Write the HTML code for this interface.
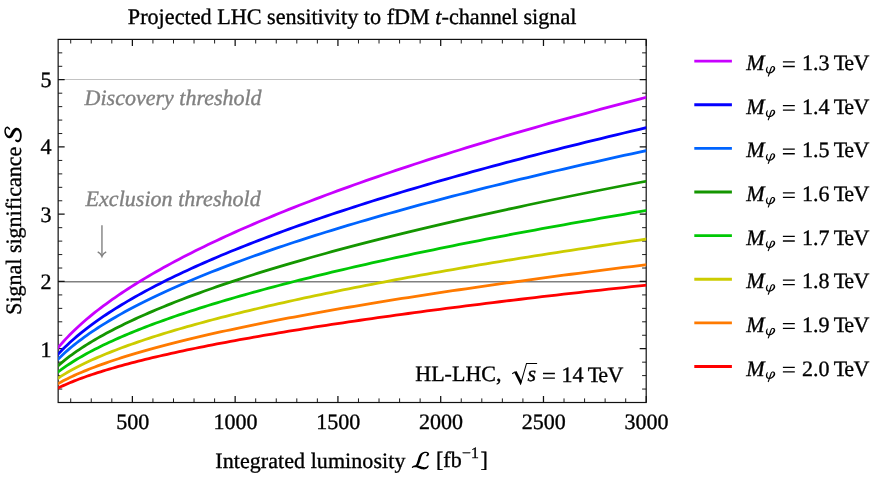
<!DOCTYPE html>
<html lang="en"><head><meta charset="utf-8"><title>Projected LHC sensitivity</title>
<style>
html,body{margin:0;padding:0;background:#fff;}
svg{display:block;will-change:transform}
text{font-family:"Liberation Serif",serif;font-size:22px;fill:#000;stroke:#000;stroke-width:0.35px;white-space:pre;text-rendering:geometricPrecision}
.i{font-style:italic}
.g{fill:#808080;stroke:#808080;font-style:italic}
</style></head><body>
<svg width="884" height="479" viewBox="0 0 884 479">
<rect width="884" height="479" fill="#fff"/>
<defs><clipPath id="c"><rect x="58.15" y="39.4" width="588.0500000000001" height="363.1"/></clipPath></defs>
<line x1="58.15" x2="646.2" y1="79.50" y2="79.50" stroke="#b4b4b4" stroke-width="0.8"/>
<line x1="58.15" x2="646.2" y1="281.65" y2="281.65" stroke="#808080" stroke-width="1.5"/>
<path d="M70.71 402.5v-4.1M70.71 39.4v4.1M91.26 402.5v-4.1M91.26 39.4v4.1M111.82 402.5v-4.1M111.82 39.4v4.1M152.93 402.5v-4.1M152.93 39.4v4.1M173.49 402.5v-4.1M173.49 39.4v4.1M194.04 402.5v-4.1M194.04 39.4v4.1M214.60 402.5v-4.1M214.60 39.4v4.1M255.70 402.5v-4.1M255.70 39.4v4.1M276.26 402.5v-4.1M276.26 39.4v4.1M296.81 402.5v-4.1M296.81 39.4v4.1M317.37 402.5v-4.1M317.37 39.4v4.1M358.48 402.5v-4.1M358.48 39.4v4.1M379.03 402.5v-4.1M379.03 39.4v4.1M399.59 402.5v-4.1M399.59 39.4v4.1M420.14 402.5v-4.1M420.14 39.4v4.1M461.25 402.5v-4.1M461.25 39.4v4.1M481.81 402.5v-4.1M481.81 39.4v4.1M502.37 402.5v-4.1M502.37 39.4v4.1M522.92 402.5v-4.1M522.92 39.4v4.1M564.03 402.5v-4.1M564.03 39.4v4.1M584.59 402.5v-4.1M584.59 39.4v4.1M605.14 402.5v-4.1M605.14 39.4v4.1M625.70 402.5v-4.1M625.70 39.4v4.1M58.15 389.05h4.1M646.2 389.05h-4.1M58.15 375.60h4.1M646.2 375.60h-4.1M58.15 362.16h4.1M646.2 362.16h-4.1M58.15 335.26h4.1M646.2 335.26h-4.1M58.15 321.81h4.1M646.2 321.81h-4.1M58.15 308.36h4.1M646.2 308.36h-4.1M58.15 294.91h4.1M646.2 294.91h-4.1M58.15 268.02h4.1M646.2 268.02h-4.1M58.15 254.57h4.1M646.2 254.57h-4.1M58.15 241.12h4.1M646.2 241.12h-4.1M58.15 227.67h4.1M646.2 227.67h-4.1M58.15 200.78h4.1M646.2 200.78h-4.1M58.15 187.33h4.1M646.2 187.33h-4.1M58.15 173.88h4.1M646.2 173.88h-4.1M58.15 160.43h4.1M646.2 160.43h-4.1M58.15 133.54h4.1M646.2 133.54h-4.1M58.15 120.09h4.1M646.2 120.09h-4.1M58.15 106.64h4.1M646.2 106.64h-4.1M58.15 93.19h4.1M646.2 93.19h-4.1M58.15 66.30h4.1M646.2 66.30h-4.1M58.15 52.85h4.1M646.2 52.85h-4.1" stroke="#111" stroke-width="0.95" fill="none"/>
<path d="M132.38 402.5v-6.5M132.38 39.4v6.5M235.15 402.5v-6.5M235.15 39.4v6.5M337.93 402.5v-6.5M337.93 39.4v6.5M440.70 402.5v-6.5M440.70 39.4v6.5M543.48 402.5v-6.5M543.48 39.4v6.5M646.25 402.5v-6.5M646.25 39.4v6.5M58.15 348.71h6.5M646.2 348.71h-6.5M58.15 281.47h6.5M646.2 281.47h-6.5M58.15 214.23h6.5M646.2 214.23h-6.5M58.15 146.98h6.5M646.2 146.98h-6.5M58.15 79.74h6.5M646.2 79.74h-6.5" stroke="#111" stroke-width="1.25" fill="none"/>
<rect x="58.15" y="39.4" width="588.0500000000001" height="363.1" fill="none" stroke="#111" stroke-width="1.2"/>
<g clip-path="url(#c)" fill="none" stroke-width="2.8" stroke-linejoin="round">
<polyline stroke="#c800ff" points="57.12,348.86 59.11,346.47 61.15,344.10 63.25,341.74 65.38,339.41 67.57,337.10 69.81,334.80 72.10,332.51 74.43,330.24 76.82,327.99 79.25,325.74 81.74,323.50 84.27,321.28 86.85,319.06 89.48,316.85 92.16,314.65 94.89,312.46 97.67,310.27 100.50,308.09 103.38,305.92 106.30,303.76 109.28,301.59 112.30,299.44 115.38,297.29 118.50,295.14 121.67,293.00 124.89,290.86 128.16,288.73 131.48,286.60 134.85,284.47 138.27,282.35 141.74,280.23 145.25,278.11 148.82,276.00 152.43,273.89 156.10,271.78 159.81,269.68 163.57,267.58 167.38,265.48 171.24,263.38 175.15,261.28 179.11,259.19 183.12,257.10 187.18,255.01 191.28,252.92 195.44,250.84 199.64,248.75 203.90,246.67 208.20,244.59 212.55,242.51 216.96,240.43 221.41,238.36 225.91,236.28 230.46,234.21 235.05,232.14 239.70,230.07 244.40,228.00 249.14,225.93 253.94,223.86 258.78,221.79 263.68,219.73 268.62,217.67 273.61,215.60 278.65,213.54 283.74,211.48 288.88,209.42 294.07,207.36 299.31,205.30 304.59,203.24 309.93,201.19 315.32,199.13 320.75,197.08 326.23,195.02 331.77,192.97 337.35,190.92 342.98,188.86 348.66,186.81 354.39,184.76 360.17,182.71 365.99,180.66 371.87,178.61 377.80,176.56 383.77,174.52 389.80,172.47 395.87,170.42 401.99,168.38 408.17,166.33 414.39,164.28 420.66,162.24 426.98,160.20 433.35,158.15 439.76,156.11 446.23,154.07 452.75,152.02 459.31,149.98 465.93,147.94 472.59,145.90 479.30,143.86 486.07,141.82 492.88,139.78 499.74,137.74 506.65,135.70 513.61,133.66 520.62,131.62 527.67,129.58 534.78,127.55 541.93,125.51 549.14,123.47 556.39,121.43 563.70,119.40 571.05,117.36 578.45,115.33 585.90,113.29 593.40,111.25 600.95,109.22 608.55,107.18 616.20,105.15 623.89,103.12 631.64,101.08 639.43,99.05 647.28,97.01"/>
<polyline stroke="#0400ff" points="57.12,355.29 59.11,353.13 61.15,350.98 63.25,348.85 65.38,346.75 67.57,344.65 69.81,342.57 72.10,340.51 74.43,338.45 76.82,336.41 79.25,334.38 81.74,332.35 84.27,330.34 86.85,328.34 89.48,326.34 92.16,324.35 94.89,322.36 97.67,320.39 100.50,318.42 103.38,316.45 106.30,314.49 109.28,312.54 112.30,310.59 115.38,308.64 118.50,306.70 121.67,304.76 124.89,302.83 128.16,300.90 131.48,298.97 134.85,297.05 138.27,295.13 141.74,293.21 145.25,291.30 148.82,289.39 152.43,287.48 156.10,285.57 159.81,283.67 163.57,281.76 167.38,279.87 171.24,277.97 175.15,276.07 179.11,274.18 183.12,272.29 187.18,270.40 191.28,268.51 195.44,266.62 199.64,264.74 203.90,262.85 208.20,260.97 212.55,259.09 216.96,257.21 221.41,255.33 225.91,253.46 230.46,251.58 235.05,249.71 239.70,247.83 244.40,245.96 249.14,244.09 253.94,242.22 258.78,240.35 263.68,238.48 268.62,236.62 273.61,234.75 278.65,232.89 283.74,231.02 288.88,229.16 294.07,227.30 299.31,225.43 304.59,223.57 309.93,221.71 315.32,219.85 320.75,217.99 326.23,216.14 331.77,214.28 337.35,212.42 342.98,210.57 348.66,208.71 354.39,206.85 360.17,205.00 365.99,203.15 371.87,201.29 377.80,199.44 383.77,197.59 389.80,195.73 395.87,193.88 401.99,192.03 408.17,190.18 414.39,188.33 420.66,186.48 426.98,184.63 433.35,182.78 439.76,180.94 446.23,179.09 452.75,177.24 459.31,175.39 465.93,173.55 472.59,171.70 479.30,169.86 486.07,168.01 492.88,166.16 499.74,164.32 506.65,162.47 513.61,160.63 520.62,158.79 527.67,156.94 534.78,155.10 541.93,153.26 549.14,151.41 556.39,149.57 563.70,147.73 571.05,145.89 578.45,144.05 585.90,142.20 593.40,140.36 600.95,138.52 608.55,136.68 616.20,134.84 623.89,133.00 631.64,131.16 639.43,129.32 647.28,127.48"/>
<polyline stroke="#0064ff" points="57.12,360.13 59.11,358.14 61.15,356.16 63.25,354.20 65.38,352.26 67.57,350.33 69.81,348.42 72.10,346.52 74.43,344.63 76.82,342.75 79.25,340.87 81.74,339.01 84.27,337.16 86.85,335.31 89.48,333.47 92.16,331.64 94.89,329.82 97.67,328.00 100.50,326.18 103.38,324.37 106.30,322.57 109.28,320.77 112.30,318.97 115.38,317.18 118.50,315.39 121.67,313.61 124.89,311.83 128.16,310.05 131.48,308.28 134.85,306.51 138.27,304.74 141.74,302.98 145.25,301.21 148.82,299.45 152.43,297.70 156.10,295.94 159.81,294.19 163.57,292.44 167.38,290.69 171.24,288.94 175.15,287.20 179.11,285.45 183.12,283.71 187.18,281.97 191.28,280.23 195.44,278.50 199.64,276.76 203.90,275.03 208.20,273.30 212.55,271.56 216.96,269.83 221.41,268.10 225.91,266.38 230.46,264.65 235.05,262.93 239.70,261.20 244.40,259.48 249.14,257.75 253.94,256.03 258.78,254.31 263.68,252.59 268.62,250.87 273.61,249.16 278.65,247.44 283.74,245.72 288.88,244.01 294.07,242.29 299.31,240.58 304.59,238.87 309.93,237.15 315.32,235.44 320.75,233.73 326.23,232.02 331.77,230.31 337.35,228.60 342.98,226.89 348.66,225.18 354.39,223.47 360.17,221.77 365.99,220.06 371.87,218.35 377.80,216.65 383.77,214.94 389.80,213.24 395.87,211.53 401.99,209.83 408.17,208.12 414.39,206.42 420.66,204.72 426.98,203.02 433.35,201.31 439.76,199.61 446.23,197.91 452.75,196.21 459.31,194.51 465.93,192.81 472.59,191.11 479.30,189.41 486.07,187.71 492.88,186.01 499.74,184.31 506.65,182.62 513.61,180.92 520.62,179.22 527.67,177.52 534.78,175.83 541.93,174.13 549.14,172.43 556.39,170.74 563.70,169.04 571.05,167.34 578.45,165.65 585.90,163.95 593.40,162.26 600.95,160.56 608.55,158.87 616.20,157.18 623.89,155.48 631.64,153.79 639.43,152.09 647.28,150.40"/>
<polyline stroke="#149600" points="57.12,366.59 59.11,364.83 61.15,363.08 63.25,361.35 65.38,359.63 67.57,357.92 69.81,356.23 72.10,354.54 74.43,352.87 76.82,351.21 79.25,349.55 81.74,347.90 84.27,346.26 86.85,344.63 89.48,343.00 92.16,341.38 94.89,339.77 97.67,338.15 100.50,336.55 103.38,334.95 106.30,333.35 109.28,331.76 112.30,330.17 115.38,328.59 118.50,327.00 121.67,325.43 124.89,323.85 128.16,322.28 131.48,320.71 134.85,319.14 138.27,317.58 141.74,316.02 145.25,314.46 148.82,312.90 152.43,311.34 156.10,309.79 159.81,308.24 163.57,306.69 167.38,305.14 171.24,303.60 175.15,302.05 179.11,300.51 183.12,298.97 187.18,297.43 191.28,295.89 195.44,294.35 199.64,292.82 203.90,291.28 208.20,289.75 212.55,288.22 216.96,286.69 221.41,285.16 225.91,283.63 230.46,282.10 235.05,280.57 239.70,279.05 244.40,277.52 249.14,276.00 253.94,274.48 258.78,272.95 263.68,271.43 268.62,269.91 273.61,268.39 278.65,266.87 283.74,265.35 288.88,263.83 294.07,262.32 299.31,260.80 304.59,259.28 309.93,257.77 315.32,256.25 320.75,254.74 326.23,253.23 331.77,251.71 337.35,250.20 342.98,248.69 348.66,247.18 354.39,245.66 360.17,244.15 365.99,242.64 371.87,241.13 377.80,239.62 383.77,238.11 389.80,236.61 395.87,235.10 401.99,233.59 408.17,232.08 414.39,230.57 420.66,229.07 426.98,227.56 433.35,226.06 439.76,224.55 446.23,223.04 452.75,221.54 459.31,220.03 465.93,218.53 472.59,217.03 479.30,215.52 486.07,214.02 492.88,212.52 499.74,211.01 506.65,209.51 513.61,208.01 520.62,206.51 527.67,205.00 534.78,203.50 541.93,202.00 549.14,200.50 556.39,199.00 563.70,197.50 571.05,196.00 578.45,194.50 585.90,193.00 593.40,191.50 600.95,190.00 608.55,188.50 616.20,187.00 623.89,185.50 631.64,184.00 639.43,182.50 647.28,181.00"/>
<polyline stroke="#00c805" points="57.12,372.78 59.11,371.24 61.15,369.71 63.25,368.19 65.38,366.68 67.57,365.19 69.81,363.71 72.10,362.24 74.43,360.77 76.82,359.31 79.25,357.86 81.74,356.42 84.27,354.99 86.85,353.56 89.48,352.13 92.16,350.71 94.89,349.30 97.67,347.89 100.50,346.48 103.38,345.08 106.30,343.68 109.28,342.29 112.30,340.90 115.38,339.51 118.50,338.13 121.67,336.75 124.89,335.37 128.16,333.99 131.48,332.62 134.85,331.25 138.27,329.88 141.74,328.51 145.25,327.14 148.82,325.78 152.43,324.42 156.10,323.06 159.81,321.70 163.57,320.35 167.38,318.99 171.24,317.64 175.15,316.29 179.11,314.94 183.12,313.59 187.18,312.24 191.28,310.89 195.44,309.55 199.64,308.20 203.90,306.86 208.20,305.52 212.55,304.18 216.96,302.84 221.41,301.50 225.91,300.16 230.46,298.82 235.05,297.49 239.70,296.15 244.40,294.81 249.14,293.48 253.94,292.15 258.78,290.81 263.68,289.48 268.62,288.15 273.61,286.82 278.65,285.49 283.74,284.16 288.88,282.83 294.07,281.50 299.31,280.18 304.59,278.85 309.93,277.52 315.32,276.20 320.75,274.87 326.23,273.54 331.77,272.22 337.35,270.90 342.98,269.57 348.66,268.25 354.39,266.93 360.17,265.60 365.99,264.28 371.87,262.96 377.80,261.64 383.77,260.32 389.80,259.00 395.87,257.68 401.99,256.36 408.17,255.04 414.39,253.72 420.66,252.40 426.98,251.08 433.35,249.76 439.76,248.44 446.23,247.13 452.75,245.81 459.31,244.49 465.93,243.17 472.59,241.86 479.30,240.54 486.07,239.23 492.88,237.91 499.74,236.59 506.65,235.28 513.61,233.96 520.62,232.65 527.67,231.33 534.78,230.02 541.93,228.70 549.14,227.39 556.39,226.08 563.70,224.76 571.05,223.45 578.45,222.14 585.90,220.82 593.40,219.51 600.95,218.20 608.55,216.88 616.20,215.57 623.89,214.26 631.64,212.95 639.43,211.64 647.28,210.32"/>
<polyline stroke="#cccc00" points="57.12,378.83 59.11,377.50 61.15,376.18 63.25,374.88 65.38,373.58 67.57,372.29 69.81,371.02 72.10,369.75 74.43,368.49 76.82,367.23 79.25,365.99 81.74,364.75 84.27,363.51 86.85,362.28 89.48,361.05 92.16,359.83 94.89,358.61 97.67,357.40 100.50,356.19 103.38,354.98 106.30,353.78 109.28,352.58 112.30,351.38 115.38,350.19 118.50,349.00 121.67,347.81 124.89,346.62 128.16,345.43 131.48,344.25 134.85,343.07 138.27,341.89 141.74,340.72 145.25,339.54 148.82,338.37 152.43,337.19 156.10,336.02 159.81,334.86 163.57,333.69 167.38,332.52 171.24,331.36 175.15,330.19 179.11,329.03 183.12,327.87 187.18,326.71 191.28,325.55 195.44,324.39 199.64,323.23 203.90,322.08 208.20,320.92 212.55,319.77 216.96,318.61 221.41,317.46 225.91,316.31 230.46,315.16 235.05,314.01 239.70,312.86 244.40,311.71 249.14,310.56 253.94,309.41 258.78,308.26 263.68,307.12 268.62,305.97 273.61,304.83 278.65,303.68 283.74,302.54 288.88,301.39 294.07,300.25 299.31,299.11 304.59,297.96 309.93,296.82 315.32,295.68 320.75,294.54 326.23,293.40 331.77,292.26 337.35,291.12 342.98,289.98 348.66,288.84 354.39,287.70 360.17,286.56 365.99,285.42 371.87,284.28 377.80,283.15 383.77,282.01 389.80,280.87 395.87,279.74 401.99,278.60 408.17,277.46 414.39,276.33 420.66,275.19 426.98,274.06 433.35,272.92 439.76,271.79 446.23,270.65 452.75,269.52 459.31,268.39 465.93,267.25 472.59,266.12 479.30,264.99 486.07,263.85 492.88,262.72 499.74,261.59 506.65,260.45 513.61,259.32 520.62,258.19 527.67,257.06 534.78,255.93 541.93,254.80 549.14,253.66 556.39,252.53 563.70,251.40 571.05,250.27 578.45,249.14 585.90,248.01 593.40,246.88 600.95,245.75 608.55,244.62 616.20,243.49 623.89,242.36 631.64,241.23 639.43,240.10 647.28,238.97"/>
<polyline stroke="#ff7a00" points="57.12,384.24 59.11,383.10 61.15,381.97 63.25,380.85 65.38,379.75 67.57,378.65 69.81,377.55 72.10,376.47 74.43,375.39 76.82,374.32 79.25,373.25 81.74,372.19 84.27,371.13 86.85,370.08 89.48,369.03 92.16,367.98 94.89,366.94 97.67,365.90 100.50,364.87 103.38,363.83 106.30,362.81 109.28,361.78 112.30,360.75 115.38,359.73 118.50,358.71 121.67,357.70 124.89,356.68 128.16,355.67 131.48,354.65 134.85,353.64 138.27,352.64 141.74,351.63 145.25,350.62 148.82,349.62 152.43,348.62 156.10,347.62 159.81,346.62 163.57,345.62 167.38,344.62 171.24,343.62 175.15,342.63 179.11,341.63 183.12,340.64 187.18,339.65 191.28,338.65 195.44,337.66 199.64,336.67 203.90,335.68 208.20,334.70 212.55,333.71 216.96,332.72 221.41,331.74 225.91,330.75 230.46,329.76 235.05,328.78 239.70,327.80 244.40,326.81 249.14,325.83 253.94,324.85 258.78,323.87 263.68,322.89 268.62,321.91 273.61,320.93 278.65,319.95 283.74,318.97 288.88,317.99 294.07,317.01 299.31,316.03 304.59,315.05 309.93,314.08 315.32,313.10 320.75,312.12 326.23,311.15 331.77,310.17 337.35,309.20 342.98,308.22 348.66,307.25 354.39,306.27 360.17,305.30 365.99,304.33 371.87,303.35 377.80,302.38 383.77,301.41 389.80,300.43 395.87,299.46 401.99,298.49 408.17,297.52 414.39,296.55 420.66,295.57 426.98,294.60 433.35,293.63 439.76,292.66 446.23,291.69 452.75,290.72 459.31,289.75 465.93,288.78 472.59,287.81 479.30,286.84 486.07,285.87 492.88,284.90 499.74,283.93 506.65,282.96 513.61,282.00 520.62,281.03 527.67,280.06 534.78,279.09 541.93,278.12 549.14,277.16 556.39,276.19 563.70,275.22 571.05,274.25 578.45,273.29 585.90,272.32 593.40,271.35 600.95,270.38 608.55,269.42 616.20,268.45 623.89,267.48 631.64,266.52 639.43,265.55 647.28,264.59"/>
<polyline stroke="#ff0000" points="57.12,388.55 59.11,387.56 61.15,386.59 63.25,385.62 65.38,384.66 67.57,383.71 69.81,382.76 72.10,381.83 74.43,380.89 76.82,379.96 79.25,379.04 81.74,378.12 84.27,377.21 86.85,376.29 89.48,375.39 92.16,374.48 94.89,373.58 97.67,372.68 100.50,371.79 103.38,370.89 106.30,370.00 109.28,369.11 112.30,368.23 115.38,367.34 118.50,366.46 121.67,365.58 124.89,364.70 128.16,363.82 131.48,362.95 134.85,362.08 138.27,361.20 141.74,360.33 145.25,359.46 148.82,358.59 152.43,357.73 156.10,356.86 159.81,355.99 163.57,355.13 167.38,354.27 171.24,353.40 175.15,352.54 179.11,351.68 183.12,350.82 187.18,349.96 191.28,349.10 195.44,348.25 199.64,347.39 203.90,346.53 208.20,345.68 212.55,344.82 216.96,343.97 221.41,343.12 225.91,342.26 230.46,341.41 235.05,340.56 239.70,339.71 244.40,338.86 249.14,338.01 253.94,337.16 258.78,336.31 263.68,335.46 268.62,334.61 273.61,333.76 278.65,332.91 283.74,332.07 288.88,331.22 294.07,330.37 299.31,329.53 304.59,328.68 309.93,327.84 315.32,326.99 320.75,326.15 326.23,325.30 331.77,324.46 337.35,323.61 342.98,322.77 348.66,321.93 354.39,321.08 360.17,320.24 365.99,319.40 371.87,318.56 377.80,317.71 383.77,316.87 389.80,316.03 395.87,315.19 401.99,314.35 408.17,313.51 414.39,312.67 420.66,311.82 426.98,310.98 433.35,310.14 439.76,309.30 446.23,308.46 452.75,307.62 459.31,306.79 465.93,305.95 472.59,305.11 479.30,304.27 486.07,303.43 492.88,302.59 499.74,301.75 506.65,300.91 513.61,300.08 520.62,299.24 527.67,298.40 534.78,297.56 541.93,296.72 549.14,295.89 556.39,295.05 563.70,294.21 571.05,293.38 578.45,292.54 585.90,291.70 593.40,290.86 600.95,290.03 608.55,289.19 616.20,288.35 623.89,287.52 631.64,286.68 639.43,285.85 647.28,285.01"/>
</g>
<text x="132.68" y="428.6" text-anchor="middle">500</text>
<text x="235.45" y="428.6" text-anchor="middle">1000</text>
<text x="338.23" y="428.6" text-anchor="middle">1500</text>
<text x="441.00" y="428.6" text-anchor="middle">2000</text>
<text x="543.77" y="428.6" text-anchor="middle">2500</text>
<text x="646.55" y="428.6" text-anchor="middle">3000</text>
<text x="51.6" y="356.50" text-anchor="end">1</text>
<text x="51.6" y="289.15" text-anchor="end">2</text>
<text x="51.6" y="221.80" text-anchor="end">3</text>
<text x="51.6" y="154.45" text-anchor="end">4</text>
<text x="51.6" y="87.10" text-anchor="end">5</text>
<text x="127.8" y="24.2" style="font-size:22.19px">Projected LHC sensitivity to fDM <tspan class="i">t</tspan>-channel signal</text>
<text class="g" x="84.6" y="105.3">Discovery threshold</text>
<text class="g" x="85.6" y="206" style="letter-spacing:0.03px">Exclusion threshold</text>
<path d="M101.95 225.3V255.6" stroke="#808080" stroke-width="1.4" fill="none"/><path d="M97.7 251.9Q100.9 253.4 101.95 256.2Q103.0 253.4 106.2 251.9" stroke="#808080" stroke-width="1.6" fill="none" stroke-linejoin="miter"/>
<text x="415.3" y="381.4">HL-LHC,</text>
<path d="M512.2 373.7L515.4 371.6M520.5 384.4L526.5 363.4H537.1" stroke="#000" stroke-width="1.05" fill="none"/><path d="M514.2 372.4L516.5 370.9L521.7 381.3L520.6 385.2Z" fill="#000"/>
<text class="i" x="527.6" y="381.4">s</text>
<path d="M543 373.5H554.9M543 378.05H554.9" stroke="#000" stroke-width="1.3" fill="none"/>
<text x="561.6" y="381.6">14</text>
<text x="587.7" y="381.6" dx="0 -1.3 -0.5">TeV</text>
<text x="215.3" y="467.6" style="letter-spacing:0.065px">Integrated luminosity </text>
<text x="436" y="467.4">[fb</text>
<text x="462" y="458.4" style="font-size:15.8px">−1</text>
<text x="480.6" y="467.4">]</text>
<path transform="translate(405 444)" d="M21.74 12.43L21.84 12.39L21.95 12.36L22.06 12.33L22.18 12.30L22.31 12.27L22.44 12.23L22.58 12.18L22.73 12.12L22.88 12.04L23.03 11.95L23.18 11.83L23.32 11.70L23.43 11.58L23.53 11.46L23.63 11.33L23.72 11.19L23.81 11.04L23.89 10.87L23.96 10.69L24.02 10.50L24.06 10.30L24.08 10.07L24.06 9.83L24.01 9.59L23.94 9.39L23.84 9.21L23.73 9.04L23.60 8.89L23.46 8.75L23.31 8.62L23.15 8.49L22.98 8.38L22.81 8.28L22.62 8.18L22.43 8.10L22.24 8.02L22.06 7.97L21.87 7.91L21.67 7.86L21.47 7.82L21.25 7.78L21.03 7.75L20.79 7.73L20.56 7.71L20.31 7.71L20.06 7.72L19.80 7.75L19.55 7.79L19.29 7.85L19.03 7.92L18.76 7.99L18.48 8.08L18.20 8.18L17.91 8.29L17.62 8.42L17.34 8.55L17.06 8.70L16.78 8.85L16.52 9.03L16.26 9.21L16.02 9.41L15.80 9.62L15.58 9.84L15.38 10.06L15.18 10.30L15.00 10.54L14.82 10.78L14.66 11.03L14.50 11.29L14.35 11.55L14.20 11.82L14.05 12.10L13.91 12.41L13.77 12.74L13.65 13.07L13.53 13.40L13.42 13.74L13.32 14.07L13.22 14.41L13.13 14.74L13.04 15.06L12.95 15.38L12.85 15.68L12.75 15.99L12.65 16.31L12.54 16.65L12.44 16.99L12.33 17.33L12.23 17.67L12.13 18.00L12.03 18.32L11.93 18.62L11.84 18.91L11.74 19.18L11.65 19.42L11.56 19.63L11.46 19.84L11.37 20.03L11.27 20.22L11.18 20.40L11.08 20.56L10.98 20.72L10.89 20.86L10.79 21.00L10.68 21.12L10.58 21.24L10.47 21.35L10.37 21.44L10.29 21.50L10.21 21.55L10.10 21.60L9.96 21.64L9.81 21.67L9.63 21.69L9.44 21.72L9.24 21.74L9.03 21.77L8.81 21.81L8.58 21.87L8.36 21.96L8.17 22.05L8.00 22.15L7.84 22.26L7.70 22.37L7.57 22.48L7.46 22.58L7.35 22.69L7.24 22.79L7.15 22.89L7.05 22.98L6.96 23.06L6.86 23.15L7.54 24.05L7.66 23.97L7.79 23.88L7.92 23.79L8.03 23.70L8.14 23.62L8.24 23.54L8.35 23.47L8.45 23.41L8.54 23.36L8.64 23.31L8.74 23.27L8.84 23.24L8.93 23.23L9.04 23.22L9.17 23.22L9.33 23.22L9.52 23.23L9.72 23.23L9.94 23.23L10.17 23.22L10.42 23.20L10.69 23.15L10.97 23.07L11.23 22.96L11.47 22.84L11.68 22.72L11.89 22.59L12.10 22.44L12.31 22.28L12.52 22.11L12.72 21.92L12.91 21.72L13.10 21.51L13.29 21.28L13.47 21.03L13.64 20.77L13.81 20.48L13.98 20.16L14.13 19.84L14.27 19.51L14.41 19.17L14.54 18.82L14.67 18.48L14.79 18.13L14.91 17.79L15.02 17.46L15.13 17.13L15.25 16.81L15.36 16.48L15.47 16.13L15.57 15.79L15.66 15.45L15.75 15.11L15.84 14.79L15.93 14.47L16.01 14.17L16.09 13.88L16.18 13.60L16.26 13.35L16.35 13.10L16.44 12.85L16.54 12.59L16.63 12.35L16.72 12.11L16.81 11.89L16.90 11.68L16.99 11.47L17.09 11.28L17.19 11.09L17.30 10.92L17.41 10.75L17.54 10.59L17.68 10.43L17.84 10.27L18.01 10.11L18.20 9.95L18.40 9.79L18.61 9.64L18.83 9.51L19.05 9.38L19.26 9.26L19.47 9.16L19.67 9.07L19.85 9.01L20.02 8.96L20.19 8.92L20.37 8.90L20.54 8.89L20.72 8.90L20.89 8.91L21.05 8.94L21.22 8.97L21.37 9.02L21.51 9.07L21.64 9.12L21.76 9.18L21.84 9.23L21.92 9.30L21.99 9.38L22.05 9.47L22.10 9.56L22.14 9.65L22.17 9.74L22.19 9.82L22.20 9.90L22.21 9.96L22.20 10.00L22.19 10.01L22.17 9.98L22.16 9.96L22.15 9.96L22.14 9.99L22.12 10.03L22.10 10.08L22.07 10.14L22.04 10.21L22.00 10.29L21.96 10.36L21.91 10.44L21.88 10.50L21.87 10.54L21.85 10.58L21.82 10.63L21.78 10.69L21.72 10.76L21.64 10.84L21.56 10.92L21.47 11.00L21.37 11.09L21.27 11.18L21.16 11.28L21.06 11.37ZM7.32 24.08L7.46 24.00L7.59 23.90L7.72 23.81L7.84 23.72L7.95 23.64L8.06 23.56L8.16 23.50L8.26 23.44L8.35 23.40L8.45 23.36L8.55 23.33L8.67 23.30L8.82 23.27L8.99 23.23L9.16 23.20L9.35 23.16L9.54 23.14L9.74 23.11L9.94 23.10L10.15 23.09L10.35 23.09L10.55 23.09L10.74 23.11L10.93 23.13L11.11 23.17L11.30 23.22L11.51 23.29L11.72 23.36L11.94 23.45L12.17 23.54L12.40 23.63L12.64 23.74L12.89 23.84L13.14 23.94L13.40 24.04L13.65 24.13L13.88 24.22L14.10 24.31L14.33 24.40L14.57 24.50L14.81 24.60L15.06 24.70L15.32 24.81L15.59 24.91L15.87 25.00L16.16 25.09L16.45 25.16L16.75 25.22L17.03 25.27L17.31 25.31L17.59 25.34L17.88 25.37L18.17 25.39L18.46 25.40L18.75 25.40L19.03 25.40L19.32 25.38L19.61 25.35L19.89 25.31L20.16 25.25L20.43 25.18L20.69 25.09L20.94 24.99L21.17 24.88L21.40 24.76L21.61 24.63L21.81 24.50L22.00 24.36L22.18 24.22L22.35 24.08L22.51 23.94L22.66 23.79L22.82 23.63L22.97 23.46L23.09 23.28L23.20 23.11L23.30 22.94L23.38 22.77L23.46 22.61L23.53 22.46L23.60 22.31L23.67 22.17L23.73 22.03L23.81 21.89L22.99 21.31L22.87 21.44L22.76 21.58L22.65 21.72L22.54 21.85L22.44 21.98L22.34 22.10L22.24 22.21L22.15 22.31L22.05 22.40L21.95 22.48L21.85 22.55L21.74 22.61L21.60 22.68L21.45 22.75L21.30 22.82L21.14 22.88L20.98 22.94L20.82 22.99L20.65 23.04L20.49 23.08L20.32 23.11L20.16 23.13L20.00 23.14L19.84 23.15L19.67 23.15L19.49 23.14L19.29 23.13L19.08 23.11L18.87 23.08L18.64 23.05L18.42 23.01L18.18 22.97L17.95 22.92L17.71 22.88L17.48 22.83L17.25 22.78L17.05 22.73L16.84 22.67L16.63 22.60L16.41 22.53L16.18 22.45L15.94 22.37L15.69 22.28L15.43 22.20L15.17 22.11L14.90 22.02L14.62 21.94L14.35 21.87L14.10 21.80L13.85 21.74L13.59 21.68L13.33 21.61L13.06 21.55L12.78 21.49L12.51 21.43L12.22 21.38L11.94 21.33L11.65 21.30L11.36 21.28L11.07 21.27L10.79 21.27L10.51 21.29L10.24 21.31L9.97 21.35L9.71 21.40L9.46 21.45L9.21 21.51L8.98 21.58L8.75 21.65L8.53 21.73L8.33 21.81L8.13 21.90L7.93 22.01L7.74 22.13L7.58 22.25L7.43 22.39L7.30 22.52L7.19 22.65L7.09 22.78L7.01 22.90L6.92 23.01L6.85 23.11L6.77 23.21L6.68 23.32Z" fill="#000"/>
<text transform="translate(20.7 314.8) rotate(-90)">Signal significance </text>
<path transform="translate(20.7 142) rotate(-90)" d="M12.75 -10.36L12.86 -10.43L12.96 -10.49L13.07 -10.55L13.18 -10.61L13.30 -10.67L13.42 -10.74L13.54 -10.82L13.66 -10.89L13.79 -10.98L13.91 -11.08L14.04 -11.19L14.15 -11.29L14.26 -11.39L14.36 -11.49L14.48 -11.60L14.61 -11.73L14.73 -11.86L14.86 -12.01L14.99 -12.17L15.11 -12.35L15.23 -12.54L15.32 -12.77L15.39 -13.02L15.41 -13.28L15.40 -13.52L15.36 -13.73L15.30 -13.94L15.22 -14.15L15.13 -14.36L15.01 -14.56L14.88 -14.76L14.73 -14.95L14.56 -15.13L14.37 -15.30L14.17 -15.46L13.95 -15.59L13.72 -15.71L13.48 -15.82L13.23 -15.92L12.96 -16.00L12.68 -16.09L12.39 -16.16L12.10 -16.22L11.79 -16.27L11.48 -16.31L11.17 -16.34L10.86 -16.35L10.55 -16.35L10.25 -16.33L9.93 -16.30L9.60 -16.25L9.28 -16.19L8.95 -16.12L8.62 -16.04L8.29 -15.95L7.96 -15.85L7.65 -15.74L7.34 -15.62L7.04 -15.49L6.75 -15.35L6.48 -15.20L6.21 -15.04L5.95 -14.87L5.69 -14.68L5.44 -14.48L5.21 -14.28L4.98 -14.06L4.77 -13.83L4.57 -13.59L4.38 -13.34L4.22 -13.08L4.08 -12.79L3.97 -12.49L3.88 -12.19L3.83 -11.88L3.79 -11.57L3.79 -11.26L3.81 -10.94L3.85 -10.63L3.92 -10.32L4.01 -10.02L4.13 -9.71L4.28 -9.42L4.46 -9.12L4.70 -8.83L4.96 -8.56L5.23 -8.34L5.50 -8.14L5.77 -7.97L6.04 -7.81L6.30 -7.66L6.55 -7.53L6.79 -7.40L7.02 -7.28L7.22 -7.17L7.43 -7.04L7.67 -6.90L7.93 -6.75L8.19 -6.61L8.44 -6.48L8.69 -6.35L8.92 -6.23L9.15 -6.12L9.35 -6.00L9.55 -5.89L9.72 -5.79L9.87 -5.69L10.02 -5.58L10.19 -5.45L10.37 -5.31L10.54 -5.17L10.71 -5.04L10.86 -4.91L11.00 -4.78L11.13 -4.66L11.23 -4.55L11.32 -4.45L11.39 -4.37L11.43 -4.31L11.47 -4.26L11.50 -4.19L11.53 -4.09L11.55 -3.97L11.57 -3.84L11.57 -3.70L11.57 -3.54L11.55 -3.39L11.52 -3.24L11.48 -3.09L11.44 -2.95L11.38 -2.82L11.32 -2.70L11.24 -2.58L11.13 -2.45L11.00 -2.31L10.85 -2.17L10.67 -2.03L10.48 -1.89L10.27 -1.75L10.05 -1.62L9.83 -1.50L9.59 -1.39L9.35 -1.29L9.12 -1.19L8.87 -1.11L8.61 -1.04L8.34 -0.97L8.05 -0.91L7.75 -0.86L7.45 -0.82L7.14 -0.79L6.83 -0.77L6.53 -0.76L6.23 -0.75L5.94 -0.76L5.66 -0.77L5.39 -0.80L5.11 -0.83L4.82 -0.88L4.54 -0.94L4.25 -1.00L3.98 -1.08L3.71 -1.16L3.46 -1.25L3.22 -1.34L3.01 -1.43L2.82 -1.53L2.66 -1.62L2.53 -1.71L2.42 -1.80L2.31 -1.91L2.22 -2.01L2.13 -2.13L2.06 -2.24L2.00 -2.35L1.95 -2.46L1.91 -2.57L1.88 -2.67L1.85 -2.76L1.84 -2.81L1.84 -2.81L1.84 -2.83L1.85 -2.87L1.87 -2.94L1.90 -3.04L1.94 -3.15L1.99 -3.27L2.04 -3.39L2.10 -3.53L2.16 -3.66L2.22 -3.79L2.27 -3.91L2.29 -3.97L2.29 -4.01L2.29 -4.05L2.30 -4.10L2.31 -4.14L2.33 -4.20L2.37 -4.26L2.41 -4.33L2.47 -4.41L2.54 -4.50L2.61 -4.60L2.67 -4.70L1.73 -5.70L1.66 -5.67L1.59 -5.65L1.52 -5.63L1.44 -5.61L1.35 -5.57L1.24 -5.53L1.13 -5.46L1.00 -5.39L0.88 -5.29L0.75 -5.17L0.63 -5.03L0.53 -4.89L0.45 -4.78L0.37 -4.66L0.28 -4.52L0.18 -4.35L0.08 -4.17L-0.01 -3.98L-0.10 -3.76L-0.18 -3.53L-0.24 -3.27L-0.28 -3.00L-0.28 -2.69L-0.24 -2.39L-0.17 -2.14L-0.09 -1.91L0.02 -1.69L0.14 -1.47L0.28 -1.26L0.44 -1.05L0.61 -0.85L0.80 -0.65L1.01 -0.47L1.24 -0.29L1.48 -0.13L1.74 0.02L2.01 0.15L2.28 0.27L2.58 0.37L2.88 0.48L3.20 0.57L3.52 0.65L3.85 0.73L4.19 0.80L4.53 0.86L4.87 0.90L5.20 0.94L5.54 0.97L5.87 0.99L6.21 1.00L6.56 1.00L6.91 0.99L7.27 0.97L7.63 0.95L7.98 0.91L8.33 0.87L8.68 0.82L9.03 0.75L9.36 0.68L9.68 0.59L10.00 0.50L10.31 0.39L10.62 0.28L10.92 0.15L11.23 0.01L11.52 -0.14L11.81 -0.30L12.09 -0.47L12.36 -0.65L12.61 -0.85L12.86 -1.07L13.08 -1.30L13.29 -1.56L13.47 -1.82L13.64 -2.10L13.78 -2.39L13.90 -2.69L14.01 -2.99L14.09 -3.30L14.15 -3.62L14.19 -3.94L14.20 -4.27L14.18 -4.60L14.13 -4.94L14.04 -5.29L13.92 -5.62L13.77 -5.93L13.60 -6.22L13.42 -6.49L13.22 -6.75L13.02 -6.99L12.82 -7.21L12.61 -7.43L12.40 -7.63L12.20 -7.82L11.98 -8.02L11.73 -8.22L11.46 -8.42L11.18 -8.59L10.91 -8.75L10.64 -8.90L10.38 -9.04L10.12 -9.17L9.87 -9.30L9.63 -9.42L9.40 -9.53L9.19 -9.64L8.97 -9.76L8.72 -9.90L8.44 -10.03L8.17 -10.16L7.92 -10.28L7.68 -10.39L7.46 -10.49L7.26 -10.59L7.09 -10.67L6.95 -10.75L6.85 -10.81L6.78 -10.85L6.74 -10.88L6.69 -10.92L6.63 -11.00L6.57 -11.08L6.51 -11.17L6.46 -11.28L6.42 -11.38L6.38 -11.49L6.35 -11.60L6.33 -11.71L6.32 -11.82L6.32 -11.92L6.32 -12.01L6.34 -12.11L6.37 -12.24L6.43 -12.39L6.51 -12.55L6.60 -12.72L6.72 -12.90L6.85 -13.07L6.99 -13.24L7.14 -13.41L7.30 -13.57L7.47 -13.72L7.65 -13.85L7.83 -13.97L8.04 -14.09L8.28 -14.20L8.53 -14.31L8.79 -14.42L9.06 -14.51L9.34 -14.59L9.61 -14.67L9.89 -14.73L10.15 -14.78L10.41 -14.82L10.65 -14.85L10.88 -14.87L11.12 -14.87L11.37 -14.87L11.61 -14.85L11.86 -14.82L12.11 -14.78L12.34 -14.73L12.57 -14.68L12.77 -14.61L12.96 -14.55L13.12 -14.48L13.25 -14.41L13.35 -14.34L13.44 -14.26L13.52 -14.17L13.58 -14.07L13.64 -13.96L13.69 -13.85L13.73 -13.74L13.76 -13.63L13.77 -13.53L13.79 -13.44L13.79 -13.36L13.79 -13.32L13.79 -13.31L13.78 -13.30L13.76 -13.25L13.73 -13.19L13.68 -13.10L13.61 -13.00L13.53 -12.90L13.44 -12.78L13.34 -12.67L13.24 -12.55L13.14 -12.42L13.05 -12.31L12.97 -12.21L12.91 -12.13L12.84 -12.05L12.77 -11.96L12.69 -11.88L12.61 -11.80L12.52 -11.71L12.43 -11.62L12.34 -11.53L12.24 -11.43L12.14 -11.33L12.05 -11.24Z" fill="#000"/>
<line x1="694.3" x2="731.9" y1="61.07" y2="61.07" stroke="#c800ff" stroke-width="2.85"/>
<text class="i" x="746.2" y="70.10">M</text>
<path transform="translate(760 61.10)" d="M7.43 5.52L7.35 5.61L7.28 5.69L7.21 5.77L7.13 5.85L7.05 5.93L6.97 6.02L6.89 6.11L6.81 6.22L6.73 6.33L6.65 6.45L6.57 6.58L6.50 6.71L6.44 6.84L6.37 6.98L6.30 7.12L6.23 7.27L6.16 7.43L6.10 7.60L6.04 7.78L5.98 7.97L5.94 8.16L5.90 8.36L5.88 8.57L5.88 8.79L5.88 8.99L5.90 9.20L5.92 9.41L5.95 9.64L5.99 9.87L6.04 10.10L6.10 10.33L6.18 10.56L6.27 10.79L6.38 11.01L6.50 11.22L6.65 11.42L6.82 11.59L7.00 11.74L7.20 11.87L7.40 11.99L7.60 12.09L7.82 12.17L8.03 12.25L8.25 12.31L8.46 12.36L8.68 12.40L8.89 12.43L9.11 12.45L9.32 12.45L9.54 12.45L9.77 12.43L9.99 12.40L10.20 12.36L10.42 12.31L10.64 12.25L10.85 12.19L11.06 12.12L11.27 12.04L11.46 11.96L11.66 11.87L11.85 11.78L12.04 11.68L12.23 11.57L12.42 11.45L12.60 11.33L12.78 11.20L12.95 11.07L13.12 10.93L13.29 10.79L13.45 10.64L13.60 10.49L13.75 10.34L13.89 10.18L14.03 10.01L14.18 9.84L14.32 9.66L14.46 9.47L14.59 9.28L14.72 9.08L14.83 8.88L14.94 8.67L15.03 8.45L15.10 8.23L15.16 8.00L15.19 7.77L15.20 7.54L15.19 7.31L15.17 7.09L15.13 6.87L15.07 6.66L15.00 6.46L14.93 6.26L14.83 6.08L14.73 5.90L14.62 5.74L14.49 5.58L14.33 5.44L14.16 5.32L13.98 5.22L13.80 5.15L13.62 5.09L13.44 5.05L13.26 5.02L13.07 5.00L12.90 4.99L12.72 5.00L12.55 5.01L12.38 5.04L12.22 5.09L12.07 5.15L11.92 5.22L11.78 5.31L11.65 5.40L11.52 5.51L11.40 5.62L11.28 5.73L11.17 5.86L11.06 5.98L10.96 6.12L10.86 6.26L10.77 6.42L10.68 6.59L10.60 6.76L10.52 6.93L10.45 7.11L10.39 7.29L10.32 7.47L10.26 7.65L10.20 7.83L10.14 8.01L10.07 8.19L10.01 8.38L9.93 8.57L9.86 8.77L9.79 8.98L9.71 9.19L9.64 9.41L9.56 9.63L9.49 9.85L9.41 10.07L9.34 10.30L9.26 10.53L9.18 10.75L9.11 10.98L9.03 11.21L8.95 11.45L8.86 11.70L8.78 11.95L8.70 12.20L8.61 12.45L8.53 12.69L8.45 12.93L8.37 13.16L8.30 13.38L8.23 13.58L8.17 13.77L8.11 13.94L8.06 14.09L8.01 14.23L7.96 14.35L7.92 14.47L7.88 14.58L7.84 14.69L7.80 14.80L7.76 14.91L7.72 15.03L7.68 15.15L7.63 15.27L8.51 15.65L8.56 15.53L8.62 15.42L8.68 15.32L8.73 15.22L8.79 15.12L8.84 15.01L8.90 14.90L8.96 14.77L9.03 14.64L9.09 14.50L9.16 14.35L9.23 14.17L9.31 13.98L9.39 13.78L9.48 13.56L9.56 13.33L9.65 13.09L9.74 12.84L9.84 12.60L9.93 12.35L10.02 12.10L10.10 11.85L10.19 11.61L10.27 11.38L10.35 11.16L10.43 10.93L10.51 10.71L10.59 10.48L10.67 10.26L10.75 10.04L10.82 9.82L10.90 9.60L10.97 9.39L11.04 9.18L11.11 8.98L11.17 8.78L11.24 8.57L11.30 8.37L11.35 8.17L11.39 7.98L11.44 7.80L11.48 7.62L11.52 7.46L11.57 7.30L11.61 7.16L11.66 7.03L11.70 6.91L11.76 6.80L11.82 6.69L11.89 6.58L11.96 6.48L12.03 6.39L12.10 6.30L12.17 6.22L12.24 6.15L12.31 6.09L12.38 6.05L12.45 6.01L12.52 5.99L12.58 5.97L12.65 5.97L12.73 5.97L12.83 5.98L12.94 6.00L13.05 6.03L13.15 6.07L13.25 6.12L13.34 6.17L13.42 6.22L13.48 6.28L13.51 6.33L13.53 6.37L13.55 6.42L13.58 6.50L13.60 6.59L13.62 6.70L13.64 6.82L13.65 6.95L13.65 7.08L13.65 7.21L13.64 7.33L13.62 7.46L13.60 7.57L13.58 7.67L13.55 7.77L13.51 7.89L13.46 8.02L13.40 8.17L13.33 8.32L13.25 8.48L13.16 8.64L13.07 8.80L12.97 8.96L12.87 9.12L12.76 9.28L12.65 9.42L12.55 9.56L12.44 9.70L12.32 9.83L12.20 9.97L12.08 10.10L11.96 10.23L11.83 10.35L11.70 10.47L11.56 10.58L11.42 10.68L11.28 10.77L11.14 10.86L10.99 10.94L10.83 11.02L10.66 11.10L10.49 11.17L10.32 11.23L10.15 11.29L9.98 11.33L9.81 11.37L9.64 11.40L9.48 11.41L9.34 11.41L9.19 11.40L9.05 11.38L8.90 11.35L8.74 11.30L8.59 11.24L8.44 11.17L8.30 11.10L8.17 11.01L8.04 10.93L7.93 10.84L7.83 10.75L7.75 10.66L7.69 10.57L7.63 10.49L7.57 10.38L7.52 10.25L7.46 10.11L7.41 9.95L7.37 9.77L7.33 9.60L7.29 9.42L7.26 9.24L7.24 9.06L7.22 8.89L7.20 8.74L7.20 8.61L7.20 8.48L7.20 8.35L7.22 8.22L7.24 8.08L7.26 7.94L7.29 7.79L7.33 7.65L7.36 7.51L7.40 7.37L7.44 7.23L7.48 7.10L7.51 6.98L7.54 6.88L7.57 6.78L7.61 6.69L7.65 6.59L7.69 6.50L7.74 6.40L7.79 6.30L7.84 6.20L7.89 6.09L7.94 5.98L7.99 5.87Z" fill="#000"/>
<path d="M782.9 61.90H794.8M782.9 66.50H794.8" stroke="#000" stroke-width="1.3" fill="none"/>
<text x="802.0" y="70.10">1.3</text>
<text x="833.7" y="70.10" dx="0 -1.3 -0.5">TeV</text>
<line x1="694.3" x2="731.9" y1="104.70" y2="104.70" stroke="#0400ff" stroke-width="2.85"/>
<text class="i" x="746.2" y="113.73">M</text>
<path transform="translate(760 104.73)" d="M7.43 5.52L7.35 5.61L7.28 5.69L7.21 5.77L7.13 5.85L7.05 5.93L6.97 6.02L6.89 6.11L6.81 6.22L6.73 6.33L6.65 6.45L6.57 6.58L6.50 6.71L6.44 6.84L6.37 6.98L6.30 7.12L6.23 7.27L6.16 7.43L6.10 7.60L6.04 7.78L5.98 7.97L5.94 8.16L5.90 8.36L5.88 8.57L5.88 8.79L5.88 8.99L5.90 9.20L5.92 9.41L5.95 9.64L5.99 9.87L6.04 10.10L6.10 10.33L6.18 10.56L6.27 10.79L6.38 11.01L6.50 11.22L6.65 11.42L6.82 11.59L7.00 11.74L7.20 11.87L7.40 11.99L7.60 12.09L7.82 12.17L8.03 12.25L8.25 12.31L8.46 12.36L8.68 12.40L8.89 12.43L9.11 12.45L9.32 12.45L9.54 12.45L9.77 12.43L9.99 12.40L10.20 12.36L10.42 12.31L10.64 12.25L10.85 12.19L11.06 12.12L11.27 12.04L11.46 11.96L11.66 11.87L11.85 11.78L12.04 11.68L12.23 11.57L12.42 11.45L12.60 11.33L12.78 11.20L12.95 11.07L13.12 10.93L13.29 10.79L13.45 10.64L13.60 10.49L13.75 10.34L13.89 10.18L14.03 10.01L14.18 9.84L14.32 9.66L14.46 9.47L14.59 9.28L14.72 9.08L14.83 8.88L14.94 8.67L15.03 8.45L15.10 8.23L15.16 8.00L15.19 7.77L15.20 7.54L15.19 7.31L15.17 7.09L15.13 6.87L15.07 6.66L15.00 6.46L14.93 6.26L14.83 6.08L14.73 5.90L14.62 5.74L14.49 5.58L14.33 5.44L14.16 5.32L13.98 5.22L13.80 5.15L13.62 5.09L13.44 5.05L13.26 5.02L13.07 5.00L12.90 4.99L12.72 5.00L12.55 5.01L12.38 5.04L12.22 5.09L12.07 5.15L11.92 5.22L11.78 5.31L11.65 5.40L11.52 5.51L11.40 5.62L11.28 5.73L11.17 5.86L11.06 5.98L10.96 6.12L10.86 6.26L10.77 6.42L10.68 6.59L10.60 6.76L10.52 6.93L10.45 7.11L10.39 7.29L10.32 7.47L10.26 7.65L10.20 7.83L10.14 8.01L10.07 8.19L10.01 8.38L9.93 8.57L9.86 8.77L9.79 8.98L9.71 9.19L9.64 9.41L9.56 9.63L9.49 9.85L9.41 10.07L9.34 10.30L9.26 10.53L9.18 10.75L9.11 10.98L9.03 11.21L8.95 11.45L8.86 11.70L8.78 11.95L8.70 12.20L8.61 12.45L8.53 12.69L8.45 12.93L8.37 13.16L8.30 13.38L8.23 13.58L8.17 13.77L8.11 13.94L8.06 14.09L8.01 14.23L7.96 14.35L7.92 14.47L7.88 14.58L7.84 14.69L7.80 14.80L7.76 14.91L7.72 15.03L7.68 15.15L7.63 15.27L8.51 15.65L8.56 15.53L8.62 15.42L8.68 15.32L8.73 15.22L8.79 15.12L8.84 15.01L8.90 14.90L8.96 14.77L9.03 14.64L9.09 14.50L9.16 14.35L9.23 14.17L9.31 13.98L9.39 13.78L9.48 13.56L9.56 13.33L9.65 13.09L9.74 12.84L9.84 12.60L9.93 12.35L10.02 12.10L10.10 11.85L10.19 11.61L10.27 11.38L10.35 11.16L10.43 10.93L10.51 10.71L10.59 10.48L10.67 10.26L10.75 10.04L10.82 9.82L10.90 9.60L10.97 9.39L11.04 9.18L11.11 8.98L11.17 8.78L11.24 8.57L11.30 8.37L11.35 8.17L11.39 7.98L11.44 7.80L11.48 7.62L11.52 7.46L11.57 7.30L11.61 7.16L11.66 7.03L11.70 6.91L11.76 6.80L11.82 6.69L11.89 6.58L11.96 6.48L12.03 6.39L12.10 6.30L12.17 6.22L12.24 6.15L12.31 6.09L12.38 6.05L12.45 6.01L12.52 5.99L12.58 5.97L12.65 5.97L12.73 5.97L12.83 5.98L12.94 6.00L13.05 6.03L13.15 6.07L13.25 6.12L13.34 6.17L13.42 6.22L13.48 6.28L13.51 6.33L13.53 6.37L13.55 6.42L13.58 6.50L13.60 6.59L13.62 6.70L13.64 6.82L13.65 6.95L13.65 7.08L13.65 7.21L13.64 7.33L13.62 7.46L13.60 7.57L13.58 7.67L13.55 7.77L13.51 7.89L13.46 8.02L13.40 8.17L13.33 8.32L13.25 8.48L13.16 8.64L13.07 8.80L12.97 8.96L12.87 9.12L12.76 9.28L12.65 9.42L12.55 9.56L12.44 9.70L12.32 9.83L12.20 9.97L12.08 10.10L11.96 10.23L11.83 10.35L11.70 10.47L11.56 10.58L11.42 10.68L11.28 10.77L11.14 10.86L10.99 10.94L10.83 11.02L10.66 11.10L10.49 11.17L10.32 11.23L10.15 11.29L9.98 11.33L9.81 11.37L9.64 11.40L9.48 11.41L9.34 11.41L9.19 11.40L9.05 11.38L8.90 11.35L8.74 11.30L8.59 11.24L8.44 11.17L8.30 11.10L8.17 11.01L8.04 10.93L7.93 10.84L7.83 10.75L7.75 10.66L7.69 10.57L7.63 10.49L7.57 10.38L7.52 10.25L7.46 10.11L7.41 9.95L7.37 9.77L7.33 9.60L7.29 9.42L7.26 9.24L7.24 9.06L7.22 8.89L7.20 8.74L7.20 8.61L7.20 8.48L7.20 8.35L7.22 8.22L7.24 8.08L7.26 7.94L7.29 7.79L7.33 7.65L7.36 7.51L7.40 7.37L7.44 7.23L7.48 7.10L7.51 6.98L7.54 6.88L7.57 6.78L7.61 6.69L7.65 6.59L7.69 6.50L7.74 6.40L7.79 6.30L7.84 6.20L7.89 6.09L7.94 5.98L7.99 5.87Z" fill="#000"/>
<path d="M782.9 105.53H794.8M782.9 110.13H794.8" stroke="#000" stroke-width="1.3" fill="none"/>
<text x="802.0" y="113.73">1.4</text>
<text x="833.7" y="113.73" dx="0 -1.3 -0.5">TeV</text>
<line x1="694.3" x2="731.9" y1="148.33" y2="148.33" stroke="#0064ff" stroke-width="2.85"/>
<text class="i" x="746.2" y="157.36">M</text>
<path transform="translate(760 148.36)" d="M7.43 5.52L7.35 5.61L7.28 5.69L7.21 5.77L7.13 5.85L7.05 5.93L6.97 6.02L6.89 6.11L6.81 6.22L6.73 6.33L6.65 6.45L6.57 6.58L6.50 6.71L6.44 6.84L6.37 6.98L6.30 7.12L6.23 7.27L6.16 7.43L6.10 7.60L6.04 7.78L5.98 7.97L5.94 8.16L5.90 8.36L5.88 8.57L5.88 8.79L5.88 8.99L5.90 9.20L5.92 9.41L5.95 9.64L5.99 9.87L6.04 10.10L6.10 10.33L6.18 10.56L6.27 10.79L6.38 11.01L6.50 11.22L6.65 11.42L6.82 11.59L7.00 11.74L7.20 11.87L7.40 11.99L7.60 12.09L7.82 12.17L8.03 12.25L8.25 12.31L8.46 12.36L8.68 12.40L8.89 12.43L9.11 12.45L9.32 12.45L9.54 12.45L9.77 12.43L9.99 12.40L10.20 12.36L10.42 12.31L10.64 12.25L10.85 12.19L11.06 12.12L11.27 12.04L11.46 11.96L11.66 11.87L11.85 11.78L12.04 11.68L12.23 11.57L12.42 11.45L12.60 11.33L12.78 11.20L12.95 11.07L13.12 10.93L13.29 10.79L13.45 10.64L13.60 10.49L13.75 10.34L13.89 10.18L14.03 10.01L14.18 9.84L14.32 9.66L14.46 9.47L14.59 9.28L14.72 9.08L14.83 8.88L14.94 8.67L15.03 8.45L15.10 8.23L15.16 8.00L15.19 7.77L15.20 7.54L15.19 7.31L15.17 7.09L15.13 6.87L15.07 6.66L15.00 6.46L14.93 6.26L14.83 6.08L14.73 5.90L14.62 5.74L14.49 5.58L14.33 5.44L14.16 5.32L13.98 5.22L13.80 5.15L13.62 5.09L13.44 5.05L13.26 5.02L13.07 5.00L12.90 4.99L12.72 5.00L12.55 5.01L12.38 5.04L12.22 5.09L12.07 5.15L11.92 5.22L11.78 5.31L11.65 5.40L11.52 5.51L11.40 5.62L11.28 5.73L11.17 5.86L11.06 5.98L10.96 6.12L10.86 6.26L10.77 6.42L10.68 6.59L10.60 6.76L10.52 6.93L10.45 7.11L10.39 7.29L10.32 7.47L10.26 7.65L10.20 7.83L10.14 8.01L10.07 8.19L10.01 8.38L9.93 8.57L9.86 8.77L9.79 8.98L9.71 9.19L9.64 9.41L9.56 9.63L9.49 9.85L9.41 10.07L9.34 10.30L9.26 10.53L9.18 10.75L9.11 10.98L9.03 11.21L8.95 11.45L8.86 11.70L8.78 11.95L8.70 12.20L8.61 12.45L8.53 12.69L8.45 12.93L8.37 13.16L8.30 13.38L8.23 13.58L8.17 13.77L8.11 13.94L8.06 14.09L8.01 14.23L7.96 14.35L7.92 14.47L7.88 14.58L7.84 14.69L7.80 14.80L7.76 14.91L7.72 15.03L7.68 15.15L7.63 15.27L8.51 15.65L8.56 15.53L8.62 15.42L8.68 15.32L8.73 15.22L8.79 15.12L8.84 15.01L8.90 14.90L8.96 14.77L9.03 14.64L9.09 14.50L9.16 14.35L9.23 14.17L9.31 13.98L9.39 13.78L9.48 13.56L9.56 13.33L9.65 13.09L9.74 12.84L9.84 12.60L9.93 12.35L10.02 12.10L10.10 11.85L10.19 11.61L10.27 11.38L10.35 11.16L10.43 10.93L10.51 10.71L10.59 10.48L10.67 10.26L10.75 10.04L10.82 9.82L10.90 9.60L10.97 9.39L11.04 9.18L11.11 8.98L11.17 8.78L11.24 8.57L11.30 8.37L11.35 8.17L11.39 7.98L11.44 7.80L11.48 7.62L11.52 7.46L11.57 7.30L11.61 7.16L11.66 7.03L11.70 6.91L11.76 6.80L11.82 6.69L11.89 6.58L11.96 6.48L12.03 6.39L12.10 6.30L12.17 6.22L12.24 6.15L12.31 6.09L12.38 6.05L12.45 6.01L12.52 5.99L12.58 5.97L12.65 5.97L12.73 5.97L12.83 5.98L12.94 6.00L13.05 6.03L13.15 6.07L13.25 6.12L13.34 6.17L13.42 6.22L13.48 6.28L13.51 6.33L13.53 6.37L13.55 6.42L13.58 6.50L13.60 6.59L13.62 6.70L13.64 6.82L13.65 6.95L13.65 7.08L13.65 7.21L13.64 7.33L13.62 7.46L13.60 7.57L13.58 7.67L13.55 7.77L13.51 7.89L13.46 8.02L13.40 8.17L13.33 8.32L13.25 8.48L13.16 8.64L13.07 8.80L12.97 8.96L12.87 9.12L12.76 9.28L12.65 9.42L12.55 9.56L12.44 9.70L12.32 9.83L12.20 9.97L12.08 10.10L11.96 10.23L11.83 10.35L11.70 10.47L11.56 10.58L11.42 10.68L11.28 10.77L11.14 10.86L10.99 10.94L10.83 11.02L10.66 11.10L10.49 11.17L10.32 11.23L10.15 11.29L9.98 11.33L9.81 11.37L9.64 11.40L9.48 11.41L9.34 11.41L9.19 11.40L9.05 11.38L8.90 11.35L8.74 11.30L8.59 11.24L8.44 11.17L8.30 11.10L8.17 11.01L8.04 10.93L7.93 10.84L7.83 10.75L7.75 10.66L7.69 10.57L7.63 10.49L7.57 10.38L7.52 10.25L7.46 10.11L7.41 9.95L7.37 9.77L7.33 9.60L7.29 9.42L7.26 9.24L7.24 9.06L7.22 8.89L7.20 8.74L7.20 8.61L7.20 8.48L7.20 8.35L7.22 8.22L7.24 8.08L7.26 7.94L7.29 7.79L7.33 7.65L7.36 7.51L7.40 7.37L7.44 7.23L7.48 7.10L7.51 6.98L7.54 6.88L7.57 6.78L7.61 6.69L7.65 6.59L7.69 6.50L7.74 6.40L7.79 6.30L7.84 6.20L7.89 6.09L7.94 5.98L7.99 5.87Z" fill="#000"/>
<path d="M782.9 149.16H794.8M782.9 153.76H794.8" stroke="#000" stroke-width="1.3" fill="none"/>
<text x="802.0" y="157.36">1.5</text>
<text x="833.7" y="157.36" dx="0 -1.3 -0.5">TeV</text>
<line x1="694.3" x2="731.9" y1="191.96" y2="191.96" stroke="#149600" stroke-width="2.85"/>
<text class="i" x="746.2" y="200.99">M</text>
<path transform="translate(760 191.99)" d="M7.43 5.52L7.35 5.61L7.28 5.69L7.21 5.77L7.13 5.85L7.05 5.93L6.97 6.02L6.89 6.11L6.81 6.22L6.73 6.33L6.65 6.45L6.57 6.58L6.50 6.71L6.44 6.84L6.37 6.98L6.30 7.12L6.23 7.27L6.16 7.43L6.10 7.60L6.04 7.78L5.98 7.97L5.94 8.16L5.90 8.36L5.88 8.57L5.88 8.79L5.88 8.99L5.90 9.20L5.92 9.41L5.95 9.64L5.99 9.87L6.04 10.10L6.10 10.33L6.18 10.56L6.27 10.79L6.38 11.01L6.50 11.22L6.65 11.42L6.82 11.59L7.00 11.74L7.20 11.87L7.40 11.99L7.60 12.09L7.82 12.17L8.03 12.25L8.25 12.31L8.46 12.36L8.68 12.40L8.89 12.43L9.11 12.45L9.32 12.45L9.54 12.45L9.77 12.43L9.99 12.40L10.20 12.36L10.42 12.31L10.64 12.25L10.85 12.19L11.06 12.12L11.27 12.04L11.46 11.96L11.66 11.87L11.85 11.78L12.04 11.68L12.23 11.57L12.42 11.45L12.60 11.33L12.78 11.20L12.95 11.07L13.12 10.93L13.29 10.79L13.45 10.64L13.60 10.49L13.75 10.34L13.89 10.18L14.03 10.01L14.18 9.84L14.32 9.66L14.46 9.47L14.59 9.28L14.72 9.08L14.83 8.88L14.94 8.67L15.03 8.45L15.10 8.23L15.16 8.00L15.19 7.77L15.20 7.54L15.19 7.31L15.17 7.09L15.13 6.87L15.07 6.66L15.00 6.46L14.93 6.26L14.83 6.08L14.73 5.90L14.62 5.74L14.49 5.58L14.33 5.44L14.16 5.32L13.98 5.22L13.80 5.15L13.62 5.09L13.44 5.05L13.26 5.02L13.07 5.00L12.90 4.99L12.72 5.00L12.55 5.01L12.38 5.04L12.22 5.09L12.07 5.15L11.92 5.22L11.78 5.31L11.65 5.40L11.52 5.51L11.40 5.62L11.28 5.73L11.17 5.86L11.06 5.98L10.96 6.12L10.86 6.26L10.77 6.42L10.68 6.59L10.60 6.76L10.52 6.93L10.45 7.11L10.39 7.29L10.32 7.47L10.26 7.65L10.20 7.83L10.14 8.01L10.07 8.19L10.01 8.38L9.93 8.57L9.86 8.77L9.79 8.98L9.71 9.19L9.64 9.41L9.56 9.63L9.49 9.85L9.41 10.07L9.34 10.30L9.26 10.53L9.18 10.75L9.11 10.98L9.03 11.21L8.95 11.45L8.86 11.70L8.78 11.95L8.70 12.20L8.61 12.45L8.53 12.69L8.45 12.93L8.37 13.16L8.30 13.38L8.23 13.58L8.17 13.77L8.11 13.94L8.06 14.09L8.01 14.23L7.96 14.35L7.92 14.47L7.88 14.58L7.84 14.69L7.80 14.80L7.76 14.91L7.72 15.03L7.68 15.15L7.63 15.27L8.51 15.65L8.56 15.53L8.62 15.42L8.68 15.32L8.73 15.22L8.79 15.12L8.84 15.01L8.90 14.90L8.96 14.77L9.03 14.64L9.09 14.50L9.16 14.35L9.23 14.17L9.31 13.98L9.39 13.78L9.48 13.56L9.56 13.33L9.65 13.09L9.74 12.84L9.84 12.60L9.93 12.35L10.02 12.10L10.10 11.85L10.19 11.61L10.27 11.38L10.35 11.16L10.43 10.93L10.51 10.71L10.59 10.48L10.67 10.26L10.75 10.04L10.82 9.82L10.90 9.60L10.97 9.39L11.04 9.18L11.11 8.98L11.17 8.78L11.24 8.57L11.30 8.37L11.35 8.17L11.39 7.98L11.44 7.80L11.48 7.62L11.52 7.46L11.57 7.30L11.61 7.16L11.66 7.03L11.70 6.91L11.76 6.80L11.82 6.69L11.89 6.58L11.96 6.48L12.03 6.39L12.10 6.30L12.17 6.22L12.24 6.15L12.31 6.09L12.38 6.05L12.45 6.01L12.52 5.99L12.58 5.97L12.65 5.97L12.73 5.97L12.83 5.98L12.94 6.00L13.05 6.03L13.15 6.07L13.25 6.12L13.34 6.17L13.42 6.22L13.48 6.28L13.51 6.33L13.53 6.37L13.55 6.42L13.58 6.50L13.60 6.59L13.62 6.70L13.64 6.82L13.65 6.95L13.65 7.08L13.65 7.21L13.64 7.33L13.62 7.46L13.60 7.57L13.58 7.67L13.55 7.77L13.51 7.89L13.46 8.02L13.40 8.17L13.33 8.32L13.25 8.48L13.16 8.64L13.07 8.80L12.97 8.96L12.87 9.12L12.76 9.28L12.65 9.42L12.55 9.56L12.44 9.70L12.32 9.83L12.20 9.97L12.08 10.10L11.96 10.23L11.83 10.35L11.70 10.47L11.56 10.58L11.42 10.68L11.28 10.77L11.14 10.86L10.99 10.94L10.83 11.02L10.66 11.10L10.49 11.17L10.32 11.23L10.15 11.29L9.98 11.33L9.81 11.37L9.64 11.40L9.48 11.41L9.34 11.41L9.19 11.40L9.05 11.38L8.90 11.35L8.74 11.30L8.59 11.24L8.44 11.17L8.30 11.10L8.17 11.01L8.04 10.93L7.93 10.84L7.83 10.75L7.75 10.66L7.69 10.57L7.63 10.49L7.57 10.38L7.52 10.25L7.46 10.11L7.41 9.95L7.37 9.77L7.33 9.60L7.29 9.42L7.26 9.24L7.24 9.06L7.22 8.89L7.20 8.74L7.20 8.61L7.20 8.48L7.20 8.35L7.22 8.22L7.24 8.08L7.26 7.94L7.29 7.79L7.33 7.65L7.36 7.51L7.40 7.37L7.44 7.23L7.48 7.10L7.51 6.98L7.54 6.88L7.57 6.78L7.61 6.69L7.65 6.59L7.69 6.50L7.74 6.40L7.79 6.30L7.84 6.20L7.89 6.09L7.94 5.98L7.99 5.87Z" fill="#000"/>
<path d="M782.9 192.79H794.8M782.9 197.39H794.8" stroke="#000" stroke-width="1.3" fill="none"/>
<text x="802.0" y="200.99">1.6</text>
<text x="833.7" y="200.99" dx="0 -1.3 -0.5">TeV</text>
<line x1="694.3" x2="731.9" y1="235.59" y2="235.59" stroke="#00c805" stroke-width="2.85"/>
<text class="i" x="746.2" y="244.62">M</text>
<path transform="translate(760 235.62)" d="M7.43 5.52L7.35 5.61L7.28 5.69L7.21 5.77L7.13 5.85L7.05 5.93L6.97 6.02L6.89 6.11L6.81 6.22L6.73 6.33L6.65 6.45L6.57 6.58L6.50 6.71L6.44 6.84L6.37 6.98L6.30 7.12L6.23 7.27L6.16 7.43L6.10 7.60L6.04 7.78L5.98 7.97L5.94 8.16L5.90 8.36L5.88 8.57L5.88 8.79L5.88 8.99L5.90 9.20L5.92 9.41L5.95 9.64L5.99 9.87L6.04 10.10L6.10 10.33L6.18 10.56L6.27 10.79L6.38 11.01L6.50 11.22L6.65 11.42L6.82 11.59L7.00 11.74L7.20 11.87L7.40 11.99L7.60 12.09L7.82 12.17L8.03 12.25L8.25 12.31L8.46 12.36L8.68 12.40L8.89 12.43L9.11 12.45L9.32 12.45L9.54 12.45L9.77 12.43L9.99 12.40L10.20 12.36L10.42 12.31L10.64 12.25L10.85 12.19L11.06 12.12L11.27 12.04L11.46 11.96L11.66 11.87L11.85 11.78L12.04 11.68L12.23 11.57L12.42 11.45L12.60 11.33L12.78 11.20L12.95 11.07L13.12 10.93L13.29 10.79L13.45 10.64L13.60 10.49L13.75 10.34L13.89 10.18L14.03 10.01L14.18 9.84L14.32 9.66L14.46 9.47L14.59 9.28L14.72 9.08L14.83 8.88L14.94 8.67L15.03 8.45L15.10 8.23L15.16 8.00L15.19 7.77L15.20 7.54L15.19 7.31L15.17 7.09L15.13 6.87L15.07 6.66L15.00 6.46L14.93 6.26L14.83 6.08L14.73 5.90L14.62 5.74L14.49 5.58L14.33 5.44L14.16 5.32L13.98 5.22L13.80 5.15L13.62 5.09L13.44 5.05L13.26 5.02L13.07 5.00L12.90 4.99L12.72 5.00L12.55 5.01L12.38 5.04L12.22 5.09L12.07 5.15L11.92 5.22L11.78 5.31L11.65 5.40L11.52 5.51L11.40 5.62L11.28 5.73L11.17 5.86L11.06 5.98L10.96 6.12L10.86 6.26L10.77 6.42L10.68 6.59L10.60 6.76L10.52 6.93L10.45 7.11L10.39 7.29L10.32 7.47L10.26 7.65L10.20 7.83L10.14 8.01L10.07 8.19L10.01 8.38L9.93 8.57L9.86 8.77L9.79 8.98L9.71 9.19L9.64 9.41L9.56 9.63L9.49 9.85L9.41 10.07L9.34 10.30L9.26 10.53L9.18 10.75L9.11 10.98L9.03 11.21L8.95 11.45L8.86 11.70L8.78 11.95L8.70 12.20L8.61 12.45L8.53 12.69L8.45 12.93L8.37 13.16L8.30 13.38L8.23 13.58L8.17 13.77L8.11 13.94L8.06 14.09L8.01 14.23L7.96 14.35L7.92 14.47L7.88 14.58L7.84 14.69L7.80 14.80L7.76 14.91L7.72 15.03L7.68 15.15L7.63 15.27L8.51 15.65L8.56 15.53L8.62 15.42L8.68 15.32L8.73 15.22L8.79 15.12L8.84 15.01L8.90 14.90L8.96 14.77L9.03 14.64L9.09 14.50L9.16 14.35L9.23 14.17L9.31 13.98L9.39 13.78L9.48 13.56L9.56 13.33L9.65 13.09L9.74 12.84L9.84 12.60L9.93 12.35L10.02 12.10L10.10 11.85L10.19 11.61L10.27 11.38L10.35 11.16L10.43 10.93L10.51 10.71L10.59 10.48L10.67 10.26L10.75 10.04L10.82 9.82L10.90 9.60L10.97 9.39L11.04 9.18L11.11 8.98L11.17 8.78L11.24 8.57L11.30 8.37L11.35 8.17L11.39 7.98L11.44 7.80L11.48 7.62L11.52 7.46L11.57 7.30L11.61 7.16L11.66 7.03L11.70 6.91L11.76 6.80L11.82 6.69L11.89 6.58L11.96 6.48L12.03 6.39L12.10 6.30L12.17 6.22L12.24 6.15L12.31 6.09L12.38 6.05L12.45 6.01L12.52 5.99L12.58 5.97L12.65 5.97L12.73 5.97L12.83 5.98L12.94 6.00L13.05 6.03L13.15 6.07L13.25 6.12L13.34 6.17L13.42 6.22L13.48 6.28L13.51 6.33L13.53 6.37L13.55 6.42L13.58 6.50L13.60 6.59L13.62 6.70L13.64 6.82L13.65 6.95L13.65 7.08L13.65 7.21L13.64 7.33L13.62 7.46L13.60 7.57L13.58 7.67L13.55 7.77L13.51 7.89L13.46 8.02L13.40 8.17L13.33 8.32L13.25 8.48L13.16 8.64L13.07 8.80L12.97 8.96L12.87 9.12L12.76 9.28L12.65 9.42L12.55 9.56L12.44 9.70L12.32 9.83L12.20 9.97L12.08 10.10L11.96 10.23L11.83 10.35L11.70 10.47L11.56 10.58L11.42 10.68L11.28 10.77L11.14 10.86L10.99 10.94L10.83 11.02L10.66 11.10L10.49 11.17L10.32 11.23L10.15 11.29L9.98 11.33L9.81 11.37L9.64 11.40L9.48 11.41L9.34 11.41L9.19 11.40L9.05 11.38L8.90 11.35L8.74 11.30L8.59 11.24L8.44 11.17L8.30 11.10L8.17 11.01L8.04 10.93L7.93 10.84L7.83 10.75L7.75 10.66L7.69 10.57L7.63 10.49L7.57 10.38L7.52 10.25L7.46 10.11L7.41 9.95L7.37 9.77L7.33 9.60L7.29 9.42L7.26 9.24L7.24 9.06L7.22 8.89L7.20 8.74L7.20 8.61L7.20 8.48L7.20 8.35L7.22 8.22L7.24 8.08L7.26 7.94L7.29 7.79L7.33 7.65L7.36 7.51L7.40 7.37L7.44 7.23L7.48 7.10L7.51 6.98L7.54 6.88L7.57 6.78L7.61 6.69L7.65 6.59L7.69 6.50L7.74 6.40L7.79 6.30L7.84 6.20L7.89 6.09L7.94 5.98L7.99 5.87Z" fill="#000"/>
<path d="M782.9 236.42H794.8M782.9 241.02H794.8" stroke="#000" stroke-width="1.3" fill="none"/>
<text x="802.0" y="244.62">1.7</text>
<text x="833.7" y="244.62" dx="0 -1.3 -0.5">TeV</text>
<line x1="694.3" x2="731.9" y1="279.22" y2="279.22" stroke="#cccc00" stroke-width="2.85"/>
<text class="i" x="746.2" y="288.25">M</text>
<path transform="translate(760 279.25)" d="M7.43 5.52L7.35 5.61L7.28 5.69L7.21 5.77L7.13 5.85L7.05 5.93L6.97 6.02L6.89 6.11L6.81 6.22L6.73 6.33L6.65 6.45L6.57 6.58L6.50 6.71L6.44 6.84L6.37 6.98L6.30 7.12L6.23 7.27L6.16 7.43L6.10 7.60L6.04 7.78L5.98 7.97L5.94 8.16L5.90 8.36L5.88 8.57L5.88 8.79L5.88 8.99L5.90 9.20L5.92 9.41L5.95 9.64L5.99 9.87L6.04 10.10L6.10 10.33L6.18 10.56L6.27 10.79L6.38 11.01L6.50 11.22L6.65 11.42L6.82 11.59L7.00 11.74L7.20 11.87L7.40 11.99L7.60 12.09L7.82 12.17L8.03 12.25L8.25 12.31L8.46 12.36L8.68 12.40L8.89 12.43L9.11 12.45L9.32 12.45L9.54 12.45L9.77 12.43L9.99 12.40L10.20 12.36L10.42 12.31L10.64 12.25L10.85 12.19L11.06 12.12L11.27 12.04L11.46 11.96L11.66 11.87L11.85 11.78L12.04 11.68L12.23 11.57L12.42 11.45L12.60 11.33L12.78 11.20L12.95 11.07L13.12 10.93L13.29 10.79L13.45 10.64L13.60 10.49L13.75 10.34L13.89 10.18L14.03 10.01L14.18 9.84L14.32 9.66L14.46 9.47L14.59 9.28L14.72 9.08L14.83 8.88L14.94 8.67L15.03 8.45L15.10 8.23L15.16 8.00L15.19 7.77L15.20 7.54L15.19 7.31L15.17 7.09L15.13 6.87L15.07 6.66L15.00 6.46L14.93 6.26L14.83 6.08L14.73 5.90L14.62 5.74L14.49 5.58L14.33 5.44L14.16 5.32L13.98 5.22L13.80 5.15L13.62 5.09L13.44 5.05L13.26 5.02L13.07 5.00L12.90 4.99L12.72 5.00L12.55 5.01L12.38 5.04L12.22 5.09L12.07 5.15L11.92 5.22L11.78 5.31L11.65 5.40L11.52 5.51L11.40 5.62L11.28 5.73L11.17 5.86L11.06 5.98L10.96 6.12L10.86 6.26L10.77 6.42L10.68 6.59L10.60 6.76L10.52 6.93L10.45 7.11L10.39 7.29L10.32 7.47L10.26 7.65L10.20 7.83L10.14 8.01L10.07 8.19L10.01 8.38L9.93 8.57L9.86 8.77L9.79 8.98L9.71 9.19L9.64 9.41L9.56 9.63L9.49 9.85L9.41 10.07L9.34 10.30L9.26 10.53L9.18 10.75L9.11 10.98L9.03 11.21L8.95 11.45L8.86 11.70L8.78 11.95L8.70 12.20L8.61 12.45L8.53 12.69L8.45 12.93L8.37 13.16L8.30 13.38L8.23 13.58L8.17 13.77L8.11 13.94L8.06 14.09L8.01 14.23L7.96 14.35L7.92 14.47L7.88 14.58L7.84 14.69L7.80 14.80L7.76 14.91L7.72 15.03L7.68 15.15L7.63 15.27L8.51 15.65L8.56 15.53L8.62 15.42L8.68 15.32L8.73 15.22L8.79 15.12L8.84 15.01L8.90 14.90L8.96 14.77L9.03 14.64L9.09 14.50L9.16 14.35L9.23 14.17L9.31 13.98L9.39 13.78L9.48 13.56L9.56 13.33L9.65 13.09L9.74 12.84L9.84 12.60L9.93 12.35L10.02 12.10L10.10 11.85L10.19 11.61L10.27 11.38L10.35 11.16L10.43 10.93L10.51 10.71L10.59 10.48L10.67 10.26L10.75 10.04L10.82 9.82L10.90 9.60L10.97 9.39L11.04 9.18L11.11 8.98L11.17 8.78L11.24 8.57L11.30 8.37L11.35 8.17L11.39 7.98L11.44 7.80L11.48 7.62L11.52 7.46L11.57 7.30L11.61 7.16L11.66 7.03L11.70 6.91L11.76 6.80L11.82 6.69L11.89 6.58L11.96 6.48L12.03 6.39L12.10 6.30L12.17 6.22L12.24 6.15L12.31 6.09L12.38 6.05L12.45 6.01L12.52 5.99L12.58 5.97L12.65 5.97L12.73 5.97L12.83 5.98L12.94 6.00L13.05 6.03L13.15 6.07L13.25 6.12L13.34 6.17L13.42 6.22L13.48 6.28L13.51 6.33L13.53 6.37L13.55 6.42L13.58 6.50L13.60 6.59L13.62 6.70L13.64 6.82L13.65 6.95L13.65 7.08L13.65 7.21L13.64 7.33L13.62 7.46L13.60 7.57L13.58 7.67L13.55 7.77L13.51 7.89L13.46 8.02L13.40 8.17L13.33 8.32L13.25 8.48L13.16 8.64L13.07 8.80L12.97 8.96L12.87 9.12L12.76 9.28L12.65 9.42L12.55 9.56L12.44 9.70L12.32 9.83L12.20 9.97L12.08 10.10L11.96 10.23L11.83 10.35L11.70 10.47L11.56 10.58L11.42 10.68L11.28 10.77L11.14 10.86L10.99 10.94L10.83 11.02L10.66 11.10L10.49 11.17L10.32 11.23L10.15 11.29L9.98 11.33L9.81 11.37L9.64 11.40L9.48 11.41L9.34 11.41L9.19 11.40L9.05 11.38L8.90 11.35L8.74 11.30L8.59 11.24L8.44 11.17L8.30 11.10L8.17 11.01L8.04 10.93L7.93 10.84L7.83 10.75L7.75 10.66L7.69 10.57L7.63 10.49L7.57 10.38L7.52 10.25L7.46 10.11L7.41 9.95L7.37 9.77L7.33 9.60L7.29 9.42L7.26 9.24L7.24 9.06L7.22 8.89L7.20 8.74L7.20 8.61L7.20 8.48L7.20 8.35L7.22 8.22L7.24 8.08L7.26 7.94L7.29 7.79L7.33 7.65L7.36 7.51L7.40 7.37L7.44 7.23L7.48 7.10L7.51 6.98L7.54 6.88L7.57 6.78L7.61 6.69L7.65 6.59L7.69 6.50L7.74 6.40L7.79 6.30L7.84 6.20L7.89 6.09L7.94 5.98L7.99 5.87Z" fill="#000"/>
<path d="M782.9 280.05H794.8M782.9 284.65H794.8" stroke="#000" stroke-width="1.3" fill="none"/>
<text x="802.0" y="288.25">1.8</text>
<text x="833.7" y="288.25" dx="0 -1.3 -0.5">TeV</text>
<line x1="694.3" x2="731.9" y1="322.85" y2="322.85" stroke="#ff7a00" stroke-width="2.85"/>
<text class="i" x="746.2" y="331.88">M</text>
<path transform="translate(760 322.88)" d="M7.43 5.52L7.35 5.61L7.28 5.69L7.21 5.77L7.13 5.85L7.05 5.93L6.97 6.02L6.89 6.11L6.81 6.22L6.73 6.33L6.65 6.45L6.57 6.58L6.50 6.71L6.44 6.84L6.37 6.98L6.30 7.12L6.23 7.27L6.16 7.43L6.10 7.60L6.04 7.78L5.98 7.97L5.94 8.16L5.90 8.36L5.88 8.57L5.88 8.79L5.88 8.99L5.90 9.20L5.92 9.41L5.95 9.64L5.99 9.87L6.04 10.10L6.10 10.33L6.18 10.56L6.27 10.79L6.38 11.01L6.50 11.22L6.65 11.42L6.82 11.59L7.00 11.74L7.20 11.87L7.40 11.99L7.60 12.09L7.82 12.17L8.03 12.25L8.25 12.31L8.46 12.36L8.68 12.40L8.89 12.43L9.11 12.45L9.32 12.45L9.54 12.45L9.77 12.43L9.99 12.40L10.20 12.36L10.42 12.31L10.64 12.25L10.85 12.19L11.06 12.12L11.27 12.04L11.46 11.96L11.66 11.87L11.85 11.78L12.04 11.68L12.23 11.57L12.42 11.45L12.60 11.33L12.78 11.20L12.95 11.07L13.12 10.93L13.29 10.79L13.45 10.64L13.60 10.49L13.75 10.34L13.89 10.18L14.03 10.01L14.18 9.84L14.32 9.66L14.46 9.47L14.59 9.28L14.72 9.08L14.83 8.88L14.94 8.67L15.03 8.45L15.10 8.23L15.16 8.00L15.19 7.77L15.20 7.54L15.19 7.31L15.17 7.09L15.13 6.87L15.07 6.66L15.00 6.46L14.93 6.26L14.83 6.08L14.73 5.90L14.62 5.74L14.49 5.58L14.33 5.44L14.16 5.32L13.98 5.22L13.80 5.15L13.62 5.09L13.44 5.05L13.26 5.02L13.07 5.00L12.90 4.99L12.72 5.00L12.55 5.01L12.38 5.04L12.22 5.09L12.07 5.15L11.92 5.22L11.78 5.31L11.65 5.40L11.52 5.51L11.40 5.62L11.28 5.73L11.17 5.86L11.06 5.98L10.96 6.12L10.86 6.26L10.77 6.42L10.68 6.59L10.60 6.76L10.52 6.93L10.45 7.11L10.39 7.29L10.32 7.47L10.26 7.65L10.20 7.83L10.14 8.01L10.07 8.19L10.01 8.38L9.93 8.57L9.86 8.77L9.79 8.98L9.71 9.19L9.64 9.41L9.56 9.63L9.49 9.85L9.41 10.07L9.34 10.30L9.26 10.53L9.18 10.75L9.11 10.98L9.03 11.21L8.95 11.45L8.86 11.70L8.78 11.95L8.70 12.20L8.61 12.45L8.53 12.69L8.45 12.93L8.37 13.16L8.30 13.38L8.23 13.58L8.17 13.77L8.11 13.94L8.06 14.09L8.01 14.23L7.96 14.35L7.92 14.47L7.88 14.58L7.84 14.69L7.80 14.80L7.76 14.91L7.72 15.03L7.68 15.15L7.63 15.27L8.51 15.65L8.56 15.53L8.62 15.42L8.68 15.32L8.73 15.22L8.79 15.12L8.84 15.01L8.90 14.90L8.96 14.77L9.03 14.64L9.09 14.50L9.16 14.35L9.23 14.17L9.31 13.98L9.39 13.78L9.48 13.56L9.56 13.33L9.65 13.09L9.74 12.84L9.84 12.60L9.93 12.35L10.02 12.10L10.10 11.85L10.19 11.61L10.27 11.38L10.35 11.16L10.43 10.93L10.51 10.71L10.59 10.48L10.67 10.26L10.75 10.04L10.82 9.82L10.90 9.60L10.97 9.39L11.04 9.18L11.11 8.98L11.17 8.78L11.24 8.57L11.30 8.37L11.35 8.17L11.39 7.98L11.44 7.80L11.48 7.62L11.52 7.46L11.57 7.30L11.61 7.16L11.66 7.03L11.70 6.91L11.76 6.80L11.82 6.69L11.89 6.58L11.96 6.48L12.03 6.39L12.10 6.30L12.17 6.22L12.24 6.15L12.31 6.09L12.38 6.05L12.45 6.01L12.52 5.99L12.58 5.97L12.65 5.97L12.73 5.97L12.83 5.98L12.94 6.00L13.05 6.03L13.15 6.07L13.25 6.12L13.34 6.17L13.42 6.22L13.48 6.28L13.51 6.33L13.53 6.37L13.55 6.42L13.58 6.50L13.60 6.59L13.62 6.70L13.64 6.82L13.65 6.95L13.65 7.08L13.65 7.21L13.64 7.33L13.62 7.46L13.60 7.57L13.58 7.67L13.55 7.77L13.51 7.89L13.46 8.02L13.40 8.17L13.33 8.32L13.25 8.48L13.16 8.64L13.07 8.80L12.97 8.96L12.87 9.12L12.76 9.28L12.65 9.42L12.55 9.56L12.44 9.70L12.32 9.83L12.20 9.97L12.08 10.10L11.96 10.23L11.83 10.35L11.70 10.47L11.56 10.58L11.42 10.68L11.28 10.77L11.14 10.86L10.99 10.94L10.83 11.02L10.66 11.10L10.49 11.17L10.32 11.23L10.15 11.29L9.98 11.33L9.81 11.37L9.64 11.40L9.48 11.41L9.34 11.41L9.19 11.40L9.05 11.38L8.90 11.35L8.74 11.30L8.59 11.24L8.44 11.17L8.30 11.10L8.17 11.01L8.04 10.93L7.93 10.84L7.83 10.75L7.75 10.66L7.69 10.57L7.63 10.49L7.57 10.38L7.52 10.25L7.46 10.11L7.41 9.95L7.37 9.77L7.33 9.60L7.29 9.42L7.26 9.24L7.24 9.06L7.22 8.89L7.20 8.74L7.20 8.61L7.20 8.48L7.20 8.35L7.22 8.22L7.24 8.08L7.26 7.94L7.29 7.79L7.33 7.65L7.36 7.51L7.40 7.37L7.44 7.23L7.48 7.10L7.51 6.98L7.54 6.88L7.57 6.78L7.61 6.69L7.65 6.59L7.69 6.50L7.74 6.40L7.79 6.30L7.84 6.20L7.89 6.09L7.94 5.98L7.99 5.87Z" fill="#000"/>
<path d="M782.9 323.68H794.8M782.9 328.28H794.8" stroke="#000" stroke-width="1.3" fill="none"/>
<text x="802.0" y="331.88">1.9</text>
<text x="833.7" y="331.88" dx="0 -1.3 -0.5">TeV</text>
<line x1="694.3" x2="731.9" y1="366.48" y2="366.48" stroke="#ff0000" stroke-width="2.85"/>
<text class="i" x="746.2" y="375.51">M</text>
<path transform="translate(760 366.51)" d="M7.43 5.52L7.35 5.61L7.28 5.69L7.21 5.77L7.13 5.85L7.05 5.93L6.97 6.02L6.89 6.11L6.81 6.22L6.73 6.33L6.65 6.45L6.57 6.58L6.50 6.71L6.44 6.84L6.37 6.98L6.30 7.12L6.23 7.27L6.16 7.43L6.10 7.60L6.04 7.78L5.98 7.97L5.94 8.16L5.90 8.36L5.88 8.57L5.88 8.79L5.88 8.99L5.90 9.20L5.92 9.41L5.95 9.64L5.99 9.87L6.04 10.10L6.10 10.33L6.18 10.56L6.27 10.79L6.38 11.01L6.50 11.22L6.65 11.42L6.82 11.59L7.00 11.74L7.20 11.87L7.40 11.99L7.60 12.09L7.82 12.17L8.03 12.25L8.25 12.31L8.46 12.36L8.68 12.40L8.89 12.43L9.11 12.45L9.32 12.45L9.54 12.45L9.77 12.43L9.99 12.40L10.20 12.36L10.42 12.31L10.64 12.25L10.85 12.19L11.06 12.12L11.27 12.04L11.46 11.96L11.66 11.87L11.85 11.78L12.04 11.68L12.23 11.57L12.42 11.45L12.60 11.33L12.78 11.20L12.95 11.07L13.12 10.93L13.29 10.79L13.45 10.64L13.60 10.49L13.75 10.34L13.89 10.18L14.03 10.01L14.18 9.84L14.32 9.66L14.46 9.47L14.59 9.28L14.72 9.08L14.83 8.88L14.94 8.67L15.03 8.45L15.10 8.23L15.16 8.00L15.19 7.77L15.20 7.54L15.19 7.31L15.17 7.09L15.13 6.87L15.07 6.66L15.00 6.46L14.93 6.26L14.83 6.08L14.73 5.90L14.62 5.74L14.49 5.58L14.33 5.44L14.16 5.32L13.98 5.22L13.80 5.15L13.62 5.09L13.44 5.05L13.26 5.02L13.07 5.00L12.90 4.99L12.72 5.00L12.55 5.01L12.38 5.04L12.22 5.09L12.07 5.15L11.92 5.22L11.78 5.31L11.65 5.40L11.52 5.51L11.40 5.62L11.28 5.73L11.17 5.86L11.06 5.98L10.96 6.12L10.86 6.26L10.77 6.42L10.68 6.59L10.60 6.76L10.52 6.93L10.45 7.11L10.39 7.29L10.32 7.47L10.26 7.65L10.20 7.83L10.14 8.01L10.07 8.19L10.01 8.38L9.93 8.57L9.86 8.77L9.79 8.98L9.71 9.19L9.64 9.41L9.56 9.63L9.49 9.85L9.41 10.07L9.34 10.30L9.26 10.53L9.18 10.75L9.11 10.98L9.03 11.21L8.95 11.45L8.86 11.70L8.78 11.95L8.70 12.20L8.61 12.45L8.53 12.69L8.45 12.93L8.37 13.16L8.30 13.38L8.23 13.58L8.17 13.77L8.11 13.94L8.06 14.09L8.01 14.23L7.96 14.35L7.92 14.47L7.88 14.58L7.84 14.69L7.80 14.80L7.76 14.91L7.72 15.03L7.68 15.15L7.63 15.27L8.51 15.65L8.56 15.53L8.62 15.42L8.68 15.32L8.73 15.22L8.79 15.12L8.84 15.01L8.90 14.90L8.96 14.77L9.03 14.64L9.09 14.50L9.16 14.35L9.23 14.17L9.31 13.98L9.39 13.78L9.48 13.56L9.56 13.33L9.65 13.09L9.74 12.84L9.84 12.60L9.93 12.35L10.02 12.10L10.10 11.85L10.19 11.61L10.27 11.38L10.35 11.16L10.43 10.93L10.51 10.71L10.59 10.48L10.67 10.26L10.75 10.04L10.82 9.82L10.90 9.60L10.97 9.39L11.04 9.18L11.11 8.98L11.17 8.78L11.24 8.57L11.30 8.37L11.35 8.17L11.39 7.98L11.44 7.80L11.48 7.62L11.52 7.46L11.57 7.30L11.61 7.16L11.66 7.03L11.70 6.91L11.76 6.80L11.82 6.69L11.89 6.58L11.96 6.48L12.03 6.39L12.10 6.30L12.17 6.22L12.24 6.15L12.31 6.09L12.38 6.05L12.45 6.01L12.52 5.99L12.58 5.97L12.65 5.97L12.73 5.97L12.83 5.98L12.94 6.00L13.05 6.03L13.15 6.07L13.25 6.12L13.34 6.17L13.42 6.22L13.48 6.28L13.51 6.33L13.53 6.37L13.55 6.42L13.58 6.50L13.60 6.59L13.62 6.70L13.64 6.82L13.65 6.95L13.65 7.08L13.65 7.21L13.64 7.33L13.62 7.46L13.60 7.57L13.58 7.67L13.55 7.77L13.51 7.89L13.46 8.02L13.40 8.17L13.33 8.32L13.25 8.48L13.16 8.64L13.07 8.80L12.97 8.96L12.87 9.12L12.76 9.28L12.65 9.42L12.55 9.56L12.44 9.70L12.32 9.83L12.20 9.97L12.08 10.10L11.96 10.23L11.83 10.35L11.70 10.47L11.56 10.58L11.42 10.68L11.28 10.77L11.14 10.86L10.99 10.94L10.83 11.02L10.66 11.10L10.49 11.17L10.32 11.23L10.15 11.29L9.98 11.33L9.81 11.37L9.64 11.40L9.48 11.41L9.34 11.41L9.19 11.40L9.05 11.38L8.90 11.35L8.74 11.30L8.59 11.24L8.44 11.17L8.30 11.10L8.17 11.01L8.04 10.93L7.93 10.84L7.83 10.75L7.75 10.66L7.69 10.57L7.63 10.49L7.57 10.38L7.52 10.25L7.46 10.11L7.41 9.95L7.37 9.77L7.33 9.60L7.29 9.42L7.26 9.24L7.24 9.06L7.22 8.89L7.20 8.74L7.20 8.61L7.20 8.48L7.20 8.35L7.22 8.22L7.24 8.08L7.26 7.94L7.29 7.79L7.33 7.65L7.36 7.51L7.40 7.37L7.44 7.23L7.48 7.10L7.51 6.98L7.54 6.88L7.57 6.78L7.61 6.69L7.65 6.59L7.69 6.50L7.74 6.40L7.79 6.30L7.84 6.20L7.89 6.09L7.94 5.98L7.99 5.87Z" fill="#000"/>
<path d="M782.9 367.31H794.8M782.9 371.91H794.8" stroke="#000" stroke-width="1.3" fill="none"/>
<text x="802.0" y="375.51">2.0</text>
<text x="833.7" y="375.51" dx="0 -1.3 -0.5">TeV</text>
</svg></body></html>
